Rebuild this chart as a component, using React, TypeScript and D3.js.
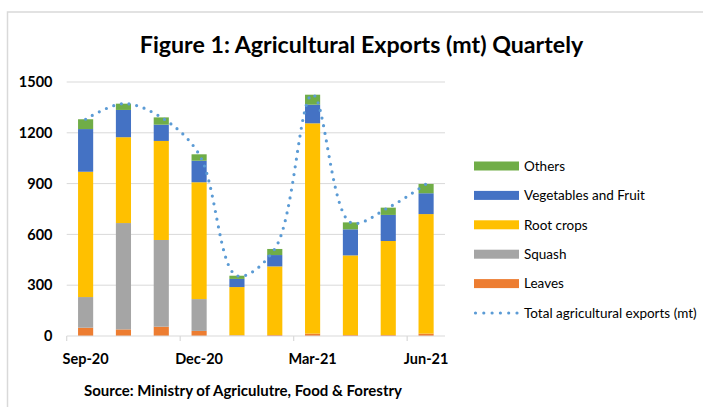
import React, { useEffect, useRef } from 'react'
import * as d3 from 'd3'

// data (mt)
const months = ["Sep-20", "Oct-20", "Nov-20", "Dec-20", "Jan-21", "Feb-21", "Mar-21", "Apr-21", "May-21", "Jun-21"]
const tickMonths = ["Sep-20", "Dec-20", "Mar-21", "Jun-21"]
const leaves = [49, 39, 55, 30, 3, 6, 14, 6, 6, 14]
const squash = [181, 628, 512, 188, 2, 0, 0, 0, 0, 0]
const rootCrops = [740, 507, 585, 690, 284, 405, 1242, 470, 555, 706]
const vegFruit = [252, 161, 96, 127, 48, 67, 110, 154, 154, 123]
const others = [58, 37, 43, 38, 19, 36, 59, 41, 43, 55]
const yTicks = [0, 300, 600, 900, 1200, 1500]

const seriesNames = ["Leaves", "Squash", "Root crops", "Vegetables and Fruit", "Others"]
const seriesColors = ["#ED7D31", "#A5A5A5", "#FFC000", "#4472C4", "#70AD47"]
const lineName = "Total agricultural exports (mt)"
const lineColor = "#5B9BD5"

const W = 703, H = 407
const FONT = "Lato, Carlito, Calibri, sans-serif"

const drawChart = (el: SVGSVGElement) => {
    const svg = d3.select(el)
    svg.selectAll("*").remove()

    const margin = { left: 66.7, right: 258, top: 82, bottom: 71 }
    const plotRight = W - margin.right
    const plotBottom = H - margin.bottom

    const rows = months.map((m, i) => ({
        month: m,
        Leaves: leaves[i],
        Squash: squash[i],
        "Root crops": rootCrops[i],
        "Vegetables and Fruit": vegFruit[i],
        Others: others[i],
    }))
    const totals = months.map((m, i) => leaves[i] + squash[i] + rootCrops[i] + vegFruit[i] + others[i])

    const x = d3.scaleBand<string>()
        .domain(months)
        .range([margin.left, plotRight])
        .paddingInner(0.6)
        .paddingOuter(0.3)
    const y = d3.scaleLinear().domain([0, 1500]).range([plotBottom, margin.top])
    const step = x.step()
    const bw = x.bandwidth()

    // chart area border
    svg.append("rect")
        .attr("x", 7.5).attr("y", 12)
        .attr("width", W).attr("height", H)
        .attr("fill", "white")
        .attr("stroke", "#D9D9D9")
        .attr("stroke-width", 1.5)

    // title
    svg.append("text")
        .attr("x", 361.5).attr("y", 53)
        .attr("text-anchor", "middle")
        .attr("font-family", FONT)
        .attr("font-weight", "bold")
        .attr("font-size", 23.2)
        .attr("fill", "#000")
        .text("Figure 1: Agricultural Exports (mt) Quartely")

    // gridlines
    svg.append("g").selectAll("line")
        .data(yTicks.filter(t => t > 0))
        .enter().append("line")
        .attr("x1", margin.left).attr("x2", plotRight)
        .attr("y1", d => y(d)).attr("y2", d => y(d))
        .attr("stroke", "#D9D9D9").attr("stroke-width", 1)

    // y labels
    svg.append("g").selectAll("text")
        .data(yTicks)
        .enter().append("text")
        .attr("x", 52.5)
        .attr("y", d => y(d))
        .attr("dy", "0.36em")
        .attr("text-anchor", "end")
        .attr("font-family", FONT)
        .attr("font-weight", "bold")
        .attr("font-size", 14.5)
        .text(d => d)

    // stacked bars
    const stack = d3.stack<any>().keys(seriesNames)
    const layers = stack(rows)
    svg.append("g").selectAll("g")
        .data(layers)
        .enter().append("g")
        .attr("fill", (d, i) => seriesColors[i])
        .selectAll("rect")
        .data(d => d)
        .enter().append("rect")
        .attr("x", d => x(d.data.month))
        .attr("width", bw)
        .attr("y", d => y(d[1]))
        .attr("height", d => Math.max(0, y(d[0]) - y(d[1])))

    // x axis line + ticks at category boundaries
    svg.append("line")
        .attr("x1", margin.left).attr("x2", plotRight)
        .attr("y1", plotBottom).attr("y2", plotBottom)
        .attr("stroke", "#D9D9D9").attr("stroke-width", 1.2)
    svg.append("g").selectAll("line")
        .data(tickMonths)
        .enter().append("line")
        .attr("x1", d => x(d) - (step - bw) / 2)
        .attr("x2", d => x(d) - (step - bw) / 2)
        .attr("y1", plotBottom).attr("y2", plotBottom + 5)
        .attr("stroke", "#D9D9D9").attr("stroke-width", 1.2)
    svg.append("g").selectAll("text")
        .data(tickMonths)
        .enter().append("text")
        .attr("x", d => x(d) + bw / 2)
        .attr("y", 364)
        .attr("text-anchor", "middle")
        .attr("font-family", FONT)
        .attr("font-weight", "bold")
        .attr("font-size", 14.5)
        .text(d => d)

    // total line, smoothed, round dots
    const line = d3.line<number>()
        .x((d, i) => x(months[i]) + bw / 2)
        .y(d => y(d))
        .curve(d3.curveCatmullRom.alpha(0.5))
    svg.append("path")
        .attr("d", line(totals))
        .attr("fill", "none")
        .attr("stroke", lineColor)
        .attr("stroke-width", 3.2)
        .attr("stroke-linecap", "round")
        .attr("stroke-dasharray", "0 7.8")

    // legend
    const legendItems = [...seriesNames].reverse().map(n => ({ name: n, color: seriesColors[seriesNames.indexOf(n)] }))
    const legend = svg.append("g").attr("transform", "translate(474, 166)")
    const rowH = 29.4
    legendItems.forEach((item, i) => {
        legend.append("rect")
            .attr("x", 0).attr("y", i * rowH - 4.5)
            .attr("width", 45).attr("height", 9)
            .attr("fill", item.color)
        legend.append("text")
            .attr("x", 50).attr("y", i * rowH)
            .attr("dy", "0.35em")
            .attr("font-family", FONT)
            .attr("font-size", 13.5)
            .text(item.name)
    })
    const ly = legendItems.length * rowH
    legend.append("line")
        .attr("x1", 1.5).attr("x2", 45)
        .attr("y1", ly).attr("y2", ly)
        .attr("stroke", lineColor)
        .attr("stroke-width", 3.2)
        .attr("stroke-linecap", "round")
        .attr("stroke-dasharray", "0 8.3")
    legend.append("text")
        .attr("x", 50).attr("y", ly)
        .attr("dy", "0.35em")
        .attr("font-family", FONT)
        .attr("font-size", 13.5)
        .text(lineName)

    // source note
    svg.append("text")
        .attr("x", 84).attr("y", 396)
        .attr("font-family", FONT)
        .attr("font-weight", "bold")
        .attr("font-size", 15)
        .text("Source: Ministry of Agriculutre, Food & Forestry")
}

export default function App() {
    const ref = useRef<SVGSVGElement>(null)
    useEffect(() => {
        if (ref.current) drawChart(ref.current)
    }, [])
    return (
        <svg ref={ref} width={W} height={H}
            style={{ position: "absolute", left: 0, top: 0, background: "white" }} />
    )
}
